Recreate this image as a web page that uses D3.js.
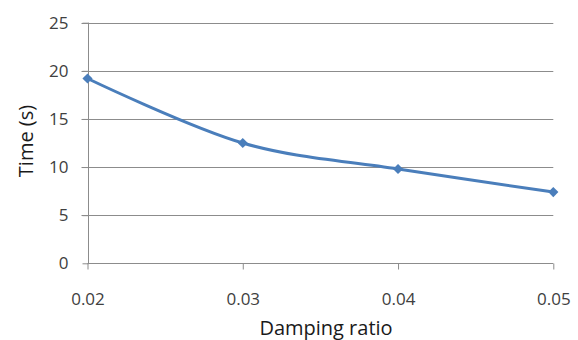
<!DOCTYPE html>
<html>
<head>
<meta charset="utf-8">
<script src="https://cdn.jsdelivr.net/npm/d3@7"></script>
<style>
  html, body { margin: 0; padding: 0; background: #fff; }
  svg text { font-family: "Open Sans", "DejaVu Sans", sans-serif; }
</style>
</head>
<body>
<svg id="chart" width="578" height="340"></svg>
<script>
// Damping ratio vs. time
const dampingRatios = [0.02, 0.03, 0.04, 0.05];
const timeValues = [19.2, 12.5, 9.8, 7.4];
const xTickValues = [0.02, 0.03, 0.04, 0.05];
const yTickValues = [0, 5, 10, 15, 20, 25];

const svg = d3.select("#chart");
const plot = { left: 87.5, right: 553.3, top: 22.7, bottom: 263.3 };
const axisColor = "#8c8c8c";
const textColor = "#404040";
const lineColor = "#4a7ebb";

const x = d3.scaleLinear().domain([0.02, 0.05]).range([plot.left, plot.right]);
const y = d3.scaleLinear().domain([0, 25]).range([plot.bottom, plot.top]);

// horizontal gridlines
svg.append("g")
  .selectAll("line")
  .data(yTickValues.filter(v => v > 0))
  .join("line")
  .attr("x1", plot.left - 6).attr("x2", plot.right)
  .attr("y1", d => Math.round(y(d)) + 0.5).attr("y2", d => Math.round(y(d)) + 0.5)
  .attr("stroke", axisColor).attr("stroke-width", 1);

// y axis
const yAxis = svg.append("g")
  .attr("transform", `translate(${Math.round(plot.left) + 0.5},0)`)
  .call(d3.axisLeft(y).tickValues(yTickValues).tickSize(6).tickPadding(14).tickFormat(d3.format("d")));

// x axis
const xAxis = svg.append("g")
  .attr("transform", `translate(0,${Math.round(plot.bottom) + 0.5})`)
  .call(d3.axisBottom(x).tickValues(xTickValues).tickSize(6).tickPadding(23).tickFormat(d3.format(".2f")));

[yAxis, xAxis].forEach(g => {
  g.select(".domain").attr("stroke", axisColor);
  g.selectAll(".tick line").attr("stroke", axisColor);
  g.selectAll(".tick text").attr("fill", textColor).style("font-size", "17px");
});
xAxis.select(".domain").attr("d", `M${x(0.02)},0H${x(0.05)}`);
yAxis.select(".domain").attr("d", `M0,${y(0)}V${y(25)}`);

// axis titles
svg.append("text")
  .attr("x", 326).attr("y", 335)
  .attr("text-anchor", "middle")
  .attr("fill", "#1a1a1a")
  .style("font-size", "20px")
  .text("Damping ratio");

svg.append("text")
  .attr("transform", "translate(33,141) rotate(-90)")
  .attr("text-anchor", "middle")
  .attr("fill", "#1a1a1a")
  .style("font-size", "20px")
  .text("Time (s)");

// smoothed series line
const points = dampingRatios.map((d, i) => [d, timeValues[i]]);
const line = d3.line()
  .x(d => x(d[0])).y(d => y(d[1]))
  .curve(d3.curveCardinal.tension(0));

svg.append("path")
  .datum(points)
  .attr("d", line)
  .attr("fill", "none")
  .attr("stroke", lineColor)
  .attr("stroke-width", 3)
  .attr("stroke-linejoin", "round");

// diamond markers
svg.append("g")
  .selectAll("path")
  .data(points)
  .join("path")
  .attr("transform", d => `translate(${x(d[0])},${y(d[1])}) rotate(45)`)
  .attr("d", "M-3.6,-3.6H3.6V3.6H-3.6Z")
  .attr("fill", lineColor);
</script>
</body>
</html>
